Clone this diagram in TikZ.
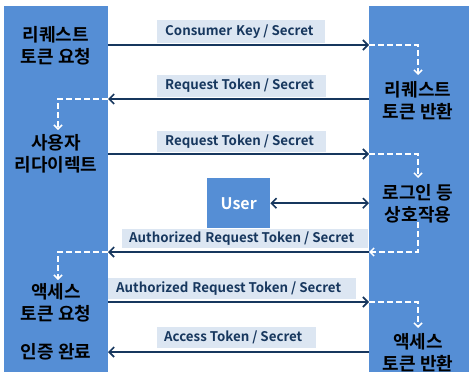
\documentclass[tikz,border=0pt]{standalone}
\usepackage{fontspec}
\setmainfont{Noto Sans CJK KR}[BoldFont={* Bold}]
\usetikzlibrary{arrows.meta}
\definecolor{boxblue}{HTML}{558ED5}
\definecolor{lblbg}{HTML}{DCE6F2}
\definecolor{navy}{HTML}{17375E}
\tikzset{
  x=1pt, y=-1pt,
  column/.style={fill=boxblue, draw=none},
  ktext/.style={font=\fontsize{18}{22}\selectfont\bfseries, align=center, text=black, inner sep=0pt},
  lblbox/.style={fill=lblbg, draw=none},
  lbltext/.style={font=\fontsize{13.3}{15}\selectfont\bfseries, text=navy, anchor=west, inner sep=0pt},
  msg/.style={draw=navy, line width=2.2pt, -{Straight Barb[length=5pt,width=10pt,line width=1.6pt]}},
  flow/.style={draw=white, line width=2pt, dash pattern=on 6pt off 3pt,
    -{Straight Barb[length=4pt,width=8pt,line width=1.5pt]}},
}
\begin{document}
\begin{tikzpicture}
\useasboundingbox (0,0) rectangle (469,372);

% two lifelines
\node[column, minimum width=104pt, minimum height=366pt, anchor=north west, inner sep=0pt] (client) at (4,6) {};
\node[column, minimum width=100pt, minimum height=366pt, anchor=north west, inner sep=0pt] (server) at (369,6) {};
\node[column, minimum width=63pt, minimum height=50pt, anchor=north west, inner sep=0pt,
  font=\fontsize{16}{18}\selectfont\bfseries, text=white] (user) at (207,178) {User};

% step texts
\node[ktext] (t1) at (56,46) {리퀘스트\\토큰 요청};
\node[ktext] (t2) at (56,154) {사용자\\리다이렉트};
\node[ktext] (t3) at (56,303) {액세스\\토큰 요청};
\node[ktext] (t4) at (56,352) {인증 완료};
\node[ktext] (s1) at (418,101) {리퀘스트\\토큰 반환};
\node[ktext] (s2) at (418,204) {로그인 등\\상호작용};
\node[ktext] (s3) at (418,353) {액세스\\토큰 반환};

% message labels
\fill[lblbox] (157,20) rectangle (325,43);
\node[lbltext] (m1) at (165,31.5) {Consumer\hspace{0.3em}Key / Secret};
\fill[lblbox] (157,75) rectangle (326,97);
\node[lbltext] (m2) at (165,86) {Request Token / Secret};
\fill[lblbox] (157,131) rectangle (326,152);
\node[lbltext] (m3) at (165,141.5) {Request Token / Secret};
\fill[lblbox] (122,229) rectangle (368,248);
\node[lbltext] (m4) at (129,238.5) {Authorized\hspace{0.3em}Request Token / Secret};
\fill[lblbox] (108,278) rectangle (356,299);
\node[lbltext] (m5) at (116,288.5) {Authorized\hspace{0.3em}Request Token / Secret};
\fill[lblbox] (157,327) rectangle (316,348);
\node[lbltext] (m6) at (164,337.5) {Access Token / Secret};

% message anchors on the lifelines
\coordinate (a1L) at (108,45);  \coordinate (a1R) at (369,45);
\coordinate (a2L) at (108,99);  \coordinate (a2R) at (369,99);
\coordinate (a3L) at (108,154); \coordinate (a3R) at (369,154);
\coordinate (a4L) at (108,252); \coordinate (a4R) at (369,252);
\coordinate (a5L) at (108,302); \coordinate (a5R) at (369,302);
\coordinate (a6L) at (108,352); \coordinate (a6R) at (369,352);

% messages
\draw[msg] (a1L) -- (a1R);
\draw[msg] (a2R) -- (a2L);
\draw[msg] (a3L) -- (a3R);
\draw[msg] (a4R) -- (a4L);
\draw[msg] (a5L) -- (a5R);
\draw[msg] (a6R) -- (a6L);
\draw[msg, {Straight Barb[length=5pt,width=10pt,line width=1.6pt]}-{Straight Barb[length=5pt,width=10pt,line width=1.6pt]}]
  (user.east) -- (user.east -| server.west);

% internal flow
\draw[flow] (a1R) -| (418,75);
\draw[flow] (a2L) -| (58,130);
\draw[flow] (a3R) -| (418,178);
\draw[flow] (418,222) |- (a4R);
\draw[flow] (a4L) -| (58,280);
\draw[flow] (a5R) -| (418,328);
\end{tikzpicture}
\end{document}
